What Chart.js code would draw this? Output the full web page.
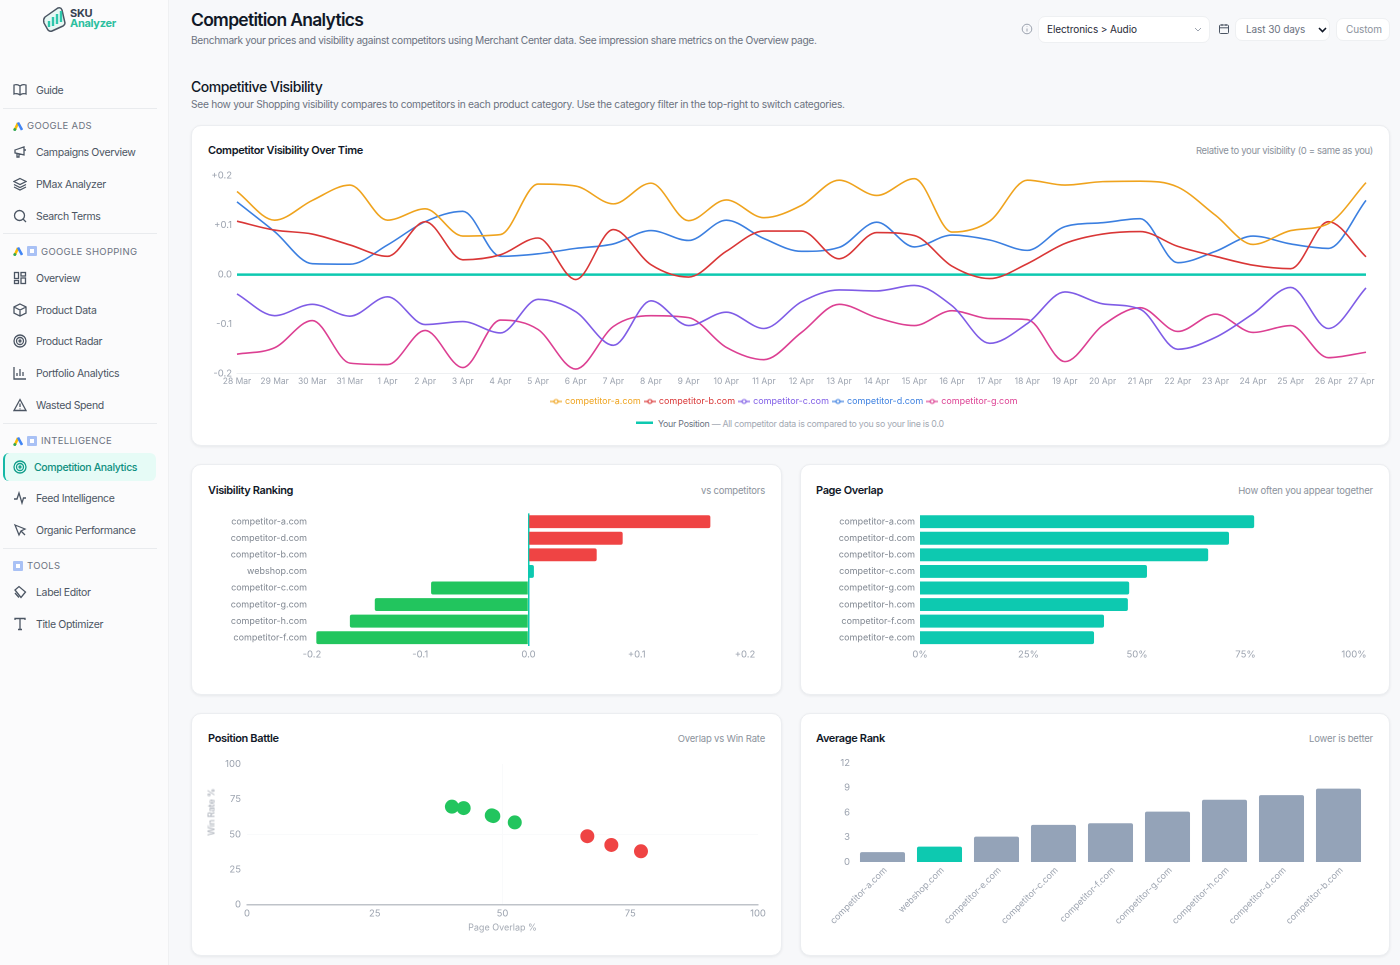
<!DOCTYPE html>
<html>
<head>
<meta charset="utf-8">
<title>Competition Analytics</title>
<script src="https://cdn.jsdelivr.net/npm/chart.js@4/dist/chart.umd.min.js"></script>
<style>
  * { box-sizing: border-box; }
  html, body { margin: 0; width: 1400px; height: 965px; overflow: hidden; background: #f7f8fa; font-family: Inter, sans-serif; color: #111827; }
  .abs { position: absolute; white-space: nowrap; }
  #side { position: absolute; left: 0; top: 0; width: 169px; height: 965px; background: #fbfbfc; border-right: 1px solid #eff0f2; }
  .nav { position: absolute; left: 36px; font-size: 10.5px; color: #4b5563; letter-spacing: -0.35px; transform: translateY(-50%); white-space: nowrap; }
  .sec { position: absolute; font-size: 9.5px; color: #6b7280; letter-spacing: 0.3px; transform: translateY(calc(-50% - .2px)); white-space: nowrap; }
  .rule { position: absolute; left: 3px; width: 154px; height: 1px; background: #e9ebee; }
  .ic { position: absolute; left: 13px; width: 14px; height: 14px; fill: none; stroke: #4b5563; stroke-width: 1.3; }
  .gads, .gsh { position: absolute; width: 10px; height: 10px; }
  .active { position: absolute; left: 3px; top: 453px; width: 153px; height: 28px; background: #e6fbf6; border-left: 2px solid #14b8a6; border-radius: 6px; }
  .card { position: absolute; background: #fff; border: 1px solid #eceef1; border-radius: 10px; box-shadow: 0 1px 3px rgba(17,24,39,.07); }
  .cardt { position: absolute; font-size: 11px; font-weight: 600; color: #111827; letter-spacing: -0.36px; white-space: nowrap; transform: translateY(-50%); }
  .cards { position: absolute; font-size: 9.5px; color: #8b929c; letter-spacing: -0.18px; white-space: nowrap; transform: translateY(-50%); text-align: right; }
  .ctl { position: absolute; background: #fff; border: 1px solid #eef0f2; border-radius: 7px; font-size: 10px; letter-spacing: -0.1px; display: flex; align-items: center; padding-bottom: 1px; }
  canvas { position: absolute; }
</style>
</head>
<body>
<div id="side">
  <svg class="abs" style="left:42px;top:5px" width="26" height="28" viewBox="0 0 26 28">
    <path d="M3 12 L16 3 Q19 2 20 5 L23 18 Q23 20 21 21 L10 26 Q8 27 6 25 L2 18 Q1 14 3 12Z" fill="#e7f8f4" stroke="#4b5563" stroke-width="1.5"/>
    <path d="M7 22V16M11 21V12M15 19V9M19 17V6" stroke="#2dc7ac" stroke-width="2.4"/>
  </svg>
  <div class="abs" style="left:70px;top:6px;font-size:11px;font-weight:700;color:#374151;letter-spacing:-.3px">SKU</div>
  <div class="abs" style="left:70px;top:15.500px;font-size:11px;font-weight:700;color:#2dbf9f;letter-spacing:-.3px">Analyzer</div>

  <svg class="ic" style="top:83px" viewBox="0 0 14 14"><path d="M7 3 Q4 1 1 2V11Q4 10 7 12Q10 10 13 11V2Q10 1 7 3ZM7 3V12"/></svg>
  <div class="nav" style="top:90px">Guide</div>
  <div class="rule" style="top:108px"></div>

  <svg class="gads" style="left:13px;top:121px" viewBox="0 0 10 10"><path d="M2 8.500L5 2" stroke="#fbbc04" stroke-width="2.6"/><path d="M5 1.500L9 9" stroke="#4285f4" stroke-width="2.6"/><circle cx="1.800" cy="8.500" r="1.500" fill="#34a853"/></svg>
  <div class="sec" style="left:27px;top:126px">GOOGLE ADS</div>
  <svg class="ic" style="top:145px" viewBox="0 0 14 14"><path d="M2 5L11 2V10L2 8ZM4 8.500V12H6V9M11 5H13"/></svg>
  <div class="nav" style="top:152px">Campaigns Overview</div>
  <svg class="ic" style="top:177px" viewBox="0 0 14 14"><path d="M7 1.500L13 4.500L7 7.500L1 4.500ZM1 7.500L7 10.500L13 7.500M1 10L7 13L13 10"/></svg>
  <div class="nav" style="top:184px">PMax Analyzer</div>
  <svg class="ic" style="top:209px" viewBox="0 0 14 14"><circle cx="6.500" cy="6.500" r="5"/><path d="M10 10L13 13"/></svg>
  <div class="nav" style="top:216px">Search Terms</div>
  <div class="rule" style="top:233px"></div>

  <svg class="gads" style="left:13px;top:246px" viewBox="0 0 10 10"><path d="M2 8.500L5 2" stroke="#fbbc04" stroke-width="2.6"/><path d="M5 1.500L9 9" stroke="#4285f4" stroke-width="2.6"/><circle cx="1.800" cy="8.500" r="1.500" fill="#34a853"/></svg>
  <svg class="gsh" style="left:27px;top:246px" viewBox="0 0 10 10"><rect width="10" height="10" rx="1" fill="#a9c1f5"/><rect x="3" y="3" width="4" height="4" fill="#fff"/></svg>
  <div class="sec" style="left:41px;top:252px">GOOGLE SHOPPING</div>
  <svg class="ic" style="top:271px" viewBox="0 0 14 14"><rect x="1.500" y="1.500" width="4" height="6"/><rect x="8" y="1.500" width="4.500" height="3.500"/><rect x="1.500" y="9.500" width="4" height="3"/><rect x="8" y="7" width="4.500" height="5.500"/></svg>
  <div class="nav" style="top:278px">Overview</div>
  <svg class="ic" style="top:303px" viewBox="0 0 14 14"><path d="M7 1L13 4V10L7 13L1 10V4ZM1 4L7 7L13 4M7 7V13"/></svg>
  <div class="nav" style="top:310px">Product Data</div>
  <svg class="ic" style="top:334px" viewBox="0 0 14 14"><circle cx="7" cy="7" r="6"/><circle cx="7" cy="7" r="3.500"/><circle cx="7" cy="7" r="1"/></svg>
  <div class="nav" style="top:341px">Product Radar</div>
  <svg class="ic" style="top:366px" viewBox="0 0 14 14"><path d="M1 1V13H13M4 10V7M7 10V3M10 10V6"/></svg>
  <div class="nav" style="top:373px">Portfolio Analytics</div>
  <svg class="ic" style="top:398px" viewBox="0 0 14 14"><path d="M7 1.500L13 12.500H1ZM7 5.500V9M7 10.500V11.200"/></svg>
  <div class="nav" style="top:405px">Wasted Spend</div>
  <div class="rule" style="top:423px"></div>

  <svg class="gads" style="left:13px;top:436px" viewBox="0 0 10 10"><path d="M2 8.500L5 2" stroke="#fbbc04" stroke-width="2.6"/><path d="M5 1.500L9 9" stroke="#4285f4" stroke-width="2.6"/><circle cx="1.800" cy="8.500" r="1.500" fill="#34a853"/></svg>
  <svg class="gsh" style="left:27px;top:436px" viewBox="0 0 10 10"><rect width="10" height="10" rx="1" fill="#a9c1f5"/><rect x="3" y="3" width="4" height="4" fill="#fff"/></svg>
  <div class="sec" style="left:41px;top:441px">INTELLIGENCE</div>
  <div class="active"></div>
  <svg class="ic" style="top:460px;stroke:#0f9d8a" viewBox="0 0 14 14"><circle cx="7" cy="7" r="6"/><circle cx="7" cy="7" r="3.500"/><circle cx="7" cy="7" r="1"/></svg>
  <div class="nav" style="top:467px;left:34px;color:#0f8f7f;font-weight:500">Competition Analytics</div>
  <svg class="ic" style="top:491px" viewBox="0 0 14 14"><path d="M1 8H4L6 2L9 12L10.500 7H13"/></svg>
  <div class="nav" style="top:498px">Feed Intelligence</div>
  <svg class="ic" style="top:523px" viewBox="0 0 14 14"><path d="M2 2L12 6L8 8L6 12ZM8 8L12 12"/></svg>
  <div class="nav" style="top:530px">Organic Performance</div>
  <div class="rule" style="top:548px"></div>

  <svg class="gsh" style="left:13px;top:561px" viewBox="0 0 10 10"><rect width="10" height="10" rx="1" fill="#a9c1f5"/><rect x="3" y="3" width="4" height="4" fill="#fff"/></svg>
  <div class="sec" style="left:27px;top:566px">TOOLS</div>
  <svg class="ic" style="top:585px" viewBox="0 0 14 14"><path d="M2 5L6 1.500L12.500 7L8 12.500ZM2 8L6 12.500"/></svg>
  <div class="nav" style="top:592px">Label Editor</div>
  <svg class="ic" style="top:617px" viewBox="0 0 14 14"><path d="M2 3V1.500H12V3M7 1.500V12.500M5 12.500H9"/></svg>
  <div class="nav" style="top:624px">Title Optimizer</div>
</div>

<div class="abs" style="left:191px;top:9px;font-size:17.500px;font-weight:600;letter-spacing:-.72px">Competition Analytics</div>
<div class="abs" style="left:191px;top:34px;font-size:10.200px;color:#6b7280;letter-spacing:-.32px">Benchmark your prices and visibility against competitors using Merchant Center data. See impression share metrics on the Overview page.</div>
<div class="abs" style="left:191px;top:78px;font-size:14px;font-weight:500;letter-spacing:-.45px">Competitive Visibility</div>
<div class="abs" style="left:191px;top:98px;font-size:10.200px;color:#6b7280;letter-spacing:-.28px">See how your Shopping visibility compares to competitors in each product category. Use the category filter in the top-right to switch categories.</div>

<svg class="abs" style="left:1021px;top:23px" width="12" height="12" viewBox="0 0 12 12" fill="none" stroke="#9ca3af"><circle cx="6" cy="6" r="4.800"/><path d="M6 5.500V8.500M6 3.500V4"/></svg>
<div class="ctl" style="left:1038px;top:16px;width:172px;height:27px;padding-left:8px;color:#1f2937">Electronics &gt; Audio</div>
<svg class="abs" style="left:1194px;top:27px" width="8" height="5" viewBox="0 0 8 5" fill="none" stroke="#9ca3af"><path d="M1 1L4 4L7 1"/></svg>
<svg class="abs" style="left:1218px;top:23px" width="12" height="12" viewBox="0 0 12 12" fill="none" stroke="#4b5563"><rect x="1.500" y="2" width="9" height="8.500" rx="1"/><path d="M1.500 4.800H10.500M4 1V3M8 1V3"/></svg>
<div class="ctl" style="left:1235px;top:18px;width:95px;height:23px;padding-left:10px;color:#6b7280">Last 30 days</div>
<svg class="abs" style="left:1318px;top:27px" width="9" height="6" viewBox="0 0 9 6" fill="none" stroke="#111827" stroke-width="1.600"><path d="M1 1L4.500 4.500L8 1"/></svg>
<div class="ctl" style="left:1336px;top:18px;width:54px;height:23px;padding-left:9px;color:#8b929c">Custom</div>

<div class="card" style="left:191px;top:125px;width:1199px;height:321px"></div>
<div class="cardt" style="left:208px;top:150px">Competitor Visibility Over Time</div>
<div class="cards" style="right:27px;top:150px;letter-spacing:-.33px">Relative to your visibility (0 = same as you)</div>
<canvas id="trendChart" style="left:203px;top:165px;width:1186px;height:251px"></canvas>
<svg class="abs" style="left:636px;top:421px" width="17" height="4"><rect width="17" height="2.500" y="0.500" fill="#0dc9b0"/></svg>
<div class="abs" style="left:658px;top:418px;font-size:8.800px;color:#6b7280;letter-spacing:-.25px">Your Position <span style="color:#a3a9b3">— All competitor data is compared to you so your line is 0.0</span></div>

<div class="card" style="left:191px;top:464px;width:591px;height:231px"></div>
<div class="cardt" style="left:208px;top:490px">Visibility Ranking</div>
<div class="cards" style="right:635px;top:490px">vs competitors</div>
<canvas id="rankChart" style="left:192px;top:503px;width:589px;height:172px"></canvas>

<div class="card" style="left:800px;top:464px;width:590px;height:231px"></div>
<div class="cardt" style="left:816px;top:490px">Page Overlap</div>
<div class="cards" style="right:27px;top:490px">How often you appear together</div>
<canvas id="overlapChart" style="left:801px;top:503px;width:588px;height:172px"></canvas>

<div class="card" style="left:191px;top:713px;width:591px;height:243px"></div>
<div class="cardt" style="left:208px;top:738px">Position Battle</div>
<div class="cards" style="right:635px;top:738px">Overlap vs Win Rate</div>
<canvas id="battleChart" style="left:192px;top:752px;width:589px;height:181px"></canvas>
<div class="abs" style="left:211px;top:812px;font-size:9px;color:#a3a9b3;letter-spacing:-.2px;transform:translate(-50%,-50%) rotate(-90deg)">Win Rate %</div>

<div class="card" style="left:800px;top:713px;width:590px;height:243px"></div>
<div class="cardt" style="left:816px;top:738px">Average Rank</div>
<div class="cards" style="right:27px;top:738px">Lower is better</div>
<canvas id="avgChart" style="left:801px;top:752px;width:588px;height:190px"></canvas>

<script>
// trend data
const dayLabels = ["28 Mar","29 Mar","30 Mar","31 Mar","1 Apr","2 Apr","3 Apr","4 Apr","5 Apr","6 Apr","7 Apr","8 Apr","9 Apr","10 Apr","11 Apr","12 Apr","13 Apr","14 Apr","15 Apr","16 Apr","17 Apr","18 Apr","19 Apr","20 Apr","21 Apr","22 Apr","23 Apr","24 Apr","25 Apr","26 Apr","27 Apr"];
const trendTicks = [-0.2, -0.1, 0, 0.1, 0.2];
const compA = [.168,.110,.150,.181,.110,.133,.078,.081,.183,.179,.143,.185,.109,.151,.115,.140,.191,.160,.194,.086,.108,.191,.181,.188,.189,.177,.120,.061,.089,.103,.186];
const compB = [.108,.090,.082,.060,.037,.107,.030,.040,.074,-.010,.091,.020,-.005,.047,.088,.088,.032,.085,.079,.017,-.008,.022,.063,.082,.087,.057,.037,.019,.012,.107,.036];
const compC = [-.039,-.083,-.060,-.084,-.045,-.101,-.095,-.118,-.050,-.075,-.143,-.053,-.103,-.076,-.109,-.055,-.031,-.033,-.022,-.063,-.139,-.099,-.035,-.059,-.070,-.151,-.127,-.079,-.026,-.109,-.027];
const compD = [.147,.087,.022,.021,.060,.107,.128,.037,.042,.053,.062,.089,.069,.110,.073,.047,.055,.106,.056,.080,.070,.049,.097,.105,.113,.024,.047,.078,.062,.053,.150];
const compG = [-.161,-.148,-.093,-.179,-.182,-.113,-.188,-.092,-.111,-.191,-.105,-.083,-.087,-.147,-.172,-.117,-.060,-.087,-.103,-.073,-.089,-.091,-.176,-.103,-.067,-.115,-.080,-.117,-.103,-.168,-.157];
const ownLine = dayLabels.map(() => 0);

const rankNames = ["competitor-a.com","competitor-d.com","competitor-b.com","webshop.com","competitor-c.com","competitor-g.com","competitor-h.com","competitor-f.com"];
const rankValues = [.168,.087,.063,.005,-.090,-.142,-.165,-.196];

const overlapNames = ["competitor-a.com","competitor-d.com","competitor-b.com","competitor-c.com","competitor-g.com","competitor-h.com","competitor-f.com","competitor-e.com"];
const overlapValues = [77,71.2,66.4,52.3,48.2,47.9,42.4,40.1];

const battleOverlap = [40.1,42.4,47.9,48.2,52.4,66.6,71.3,77.1];
const battleWin = [69.7,68.7,63.5,63,58.5,48.7,42.5,38];

const avgNames = ["competitor-a.com","webshop.com","competitor-e.com","competitor-c.com","competitor-f.com","competitor-g.com","competitor-h.com","competitor-d.com","competitor-b.com"];
const avgValues = [1.2,1.86,3.07,4.5,4.7,6.1,7.55,8.1,8.9];

const FONT = "Inter, sans-serif";
const tickGrey = "#9ca3af";
const nameGrey = "#7f8690";
const teal = "#0dc9b0";
const red = "#ef4444";
const green = "#22c55e";

Chart.defaults.font.family = FONT;
Chart.defaults.font.size = 9.5;
Chart.defaults.color = tickGrey;
Chart.defaults.animation = false;
Chart.defaults.responsive = false;
Chart.defaults.devicePixelRatio = 2;

function sizeCanvas(id) {
  const c = document.getElementById(id);
  c.width = parseInt(c.style.width);
  c.height = parseInt(c.style.height);
  return c;
}

// little line + ring marker for the legend
function legendIcon(color) {
  const c = document.createElement("canvas");
  c.width = 12; c.height = 8;
  const g = c.getContext("2d");
  g.strokeStyle = color; g.lineWidth = 1.2;
  g.beginPath(); g.moveTo(0, 4); g.lineTo(12, 4); g.stroke();
  g.fillStyle = "#fff";
  g.beginPath(); g.arc(6, 4, 2, 0, 7); g.fill(); g.stroke();
  return c;
}

function lineSet(label, data, color) {
  return { label, data, borderColor: color, backgroundColor: color, borderWidth: 1.6, pointRadius: 0, cubicInterpolationMode: "monotone", fill: false };
}

const trendSets = [
  lineSet("competitor-a.com", compA, "#efa31d"),
  lineSet("competitor-b.com", compB, "#d93636"),
  lineSet("competitor-c.com", compC, "#7f5ce6"),
  lineSet("competitor-d.com", compD, "#3b7fe0"),
  lineSet("competitor-g.com", compG, "#dc3f92"),
  Object.assign(lineSet("Your Position", ownLine, teal), { borderWidth: 2.5 }),
];

new Chart(sizeCanvas("trendChart"), {
  type: "line",
  data: { labels: dayLabels, datasets: trendSets },
  options: {
    layout: { padding: { top: 10, left: 0, right: 23, bottom: 0 } },
    plugins: {
      tooltip: { enabled: false },
      legend: {
        position: "bottom",
        labels: {
          boxWidth: 12, boxHeight: 8, padding: 4.5, usePointStyle: true, font: { size: 9 },
          generateLabels: (chart) => chart.data.datasets.slice(0, 5).map((ds, i) => ({
            text: ds.label, fontColor: ds.borderColor, pointStyle: legendIcon(ds.borderColor),
            datasetIndex: i, lineWidth: 0, strokeStyle: "transparent", fillStyle: "transparent",
          })),
        },
      },
    },
    scales: {
      x: {
        grid: { display: false, drawTicks: false },
        border: { color: "#eef0f2" },
        afterFit: (s) => { s.height = 19; s.paddingLeft = 0; s.paddingRight = 0; },
        ticks: {
          autoSkip: false, maxRotation: 0, minRotation: 0, padding: 3, font: { size: 8.5 },
          // last label sits a little left of its point, same as the original
          callback: function (v, i) { return i === dayLabels.length - 1 ? dayLabels[i] + "    " : dayLabels[i]; },
        },
      },
      y: {
        min: -0.2, max: 0.2,
        afterBuildTicks: (s) => { s.ticks = trendTicks.map((value) => ({ value })); },
        afterFit: (s) => { s.width = 34; },
        grid: { display: false, drawTicks: false },
        border: { display: false },
        ticks: {
          padding: 5, font: { size: 9.5 },
          callback: (v) => (v > 0 ? "+" : "") + v.toFixed(1),
        },
      },
    },
  },
});

new Chart(sizeCanvas("rankChart"), {
  type: "bar",
  data: {
    labels: rankNames,
    datasets: [{
      data: rankValues,
      backgroundColor: rankValues.map((v, i) => (rankNames[i] === "webshop.com" ? teal : v > 0 ? red : green)),
      borderRadius: 2, barPercentage: 0.78, categoryPercentage: 1, base: 0,
    }],
  },
  options: {
    indexAxis: "y",
    layout: { padding: { right: 36, top: 4, bottom: 0 } },
    plugins: { legend: { display: false }, tooltip: { enabled: false } },
    scales: {
      x: {
        min: -0.2, max: 0.2,
        afterBuildTicks: (s) => { s.ticks = [-0.2, -0.1, 0, 0.1, 0.2].map((value) => ({ value })); },
        afterFit: (s) => { s.height = 29; },
        grid: { display: true, drawTicks: false, lineWidth: (c) => (c.tick.value === 0 ? 1.5 : 0), color: teal },
        border: { display: false },
        ticks: { padding: 3, font: { size: 9.5 }, callback: (v) => (v > 0 ? "+" : "") + v.toFixed(1) },
      },
      y: {
        afterFit: (s) => { s.width = 120; },
        grid: { display: false, drawTicks: false },
        border: { display: false },
        ticks: { padding: 5, font: { size: 9 }, color: nameGrey, autoSkip: false },
      },
    },
  },
});

new Chart(sizeCanvas("overlapChart"), {
  type: "bar",
  data: {
    labels: overlapNames,
    datasets: [{ data: overlapValues, backgroundColor: teal, borderRadius: 2, barPercentage: 0.78, categoryPercentage: 1 }],
  },
  options: {
    indexAxis: "y",
    layout: { padding: { right: 35, top: 4, bottom: 0 } },
    plugins: { legend: { display: false }, tooltip: { enabled: false } },
    scales: {
      x: {
        min: 0, max: 100,
        afterBuildTicks: (s) => { s.ticks = [0, 25, 50, 75, 100].map((value) => ({ value })); },
        afterFit: (s) => { s.height = 29; },
        grid: { display: false, drawTicks: false },
        border: { display: false },
        ticks: { padding: 3, font: { size: 9.5 }, callback: (v) => v + "%" },
      },
      y: {
        afterFit: (s) => { s.width = 119; },
        grid: { display: false, drawTicks: false },
        border: { display: false },
        ticks: { padding: 5, font: { size: 9 }, color: nameGrey, autoSkip: false },
      },
    },
  },
});

new Chart(sizeCanvas("battleChart"), {
  type: "scatter",
  data: {
    datasets: [{
      data: battleOverlap.map((x, i) => ({ x, y: battleWin[i] })),
      backgroundColor: battleWin.map((v) => (v >= 50 ? green : red)),
      pointRadius: 7,
      pointBorderWidth: 0,
    }],
  },
  options: {
    layout: { padding: { right: 23, top: 12, bottom: 0 } },
    plugins: { legend: { display: false }, tooltip: { enabled: false } },
    scales: {
      x: {
        min: 0, max: 100,
        title: { display: true, text: "Page Overlap %", color: "#a3a9b3", font: { size: 9 }, padding: { top: 0, bottom: 0 } },
        afterBuildTicks: (s) => { s.ticks = [0, 25, 50, 75, 100].map((value) => ({ value })); },
        grid: { drawTicks: false, color: (c) => (c.tick.value === 50 ? "#f9fafb" : "transparent") },
        border: { color: "#bfc3c9", width: 1.5 },
        ticks: { padding: 3, font: { size: 9.5 } },
      },
      y: {
        min: 0, max: 100,
        afterBuildTicks: (s) => { s.ticks = [0, 25, 50, 75, 100].map((value) => ({ value })); },
        afterFit: (s) => { s.width = 55; },
        grid: { drawTicks: false, color: (c) => (c.tick.value === 50 ? "#f9fafb" : "transparent") },
        border: { display: false },
        ticks: { padding: 6, font: { size: 9.5 } },
      },
    },
  },
});

new Chart(sizeCanvas("avgChart"), {
  type: "bar",
  data: {
    labels: avgNames,
    datasets: [{
      data: avgValues,
      backgroundColor: avgNames.map((n) => (n === "webshop.com" ? teal : "#94a3b8")),
      borderRadius: { topLeft: 2, topRight: 2 },
      barPercentage: 0.79, categoryPercentage: 1,
    }],
  },
  options: {
    layout: { padding: { right: 22, top: 11, bottom: 0 } },
    plugins: { legend: { display: false }, tooltip: { enabled: false } },
    scales: {
      x: {
        afterFit: (s) => { s.height = 80; },
        grid: { display: false, drawTicks: false },
        border: { display: false },
        ticks: { autoSkip: false, maxRotation: 45, minRotation: 45, padding: 3, labelOffset: 3, font: { size: 9 }, color: "#9ca3af" },
      },
      y: {
        min: 0, max: 12,
        afterBuildTicks: (s) => { s.ticks = [0, 3, 6, 9, 12].map((value) => ({ value })); },
        afterFit: (s) => { s.width = 53; },
        grid: { display: false, drawTicks: false },
        border: { display: false },
        ticks: { padding: 4, font: { size: 9.5 } },
      },
    },
  },
});
</script>
</body>
</html>
